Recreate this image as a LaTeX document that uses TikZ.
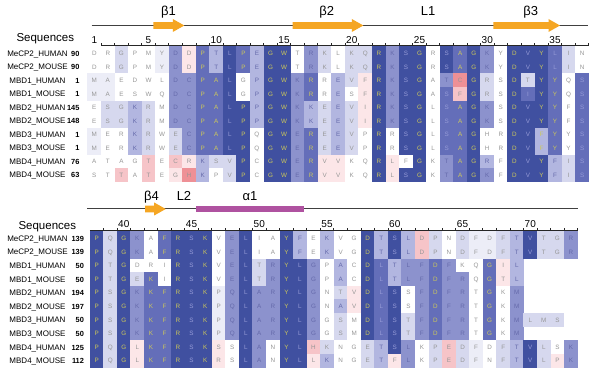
\documentclass[tikz,border=0pt]{standalone}
\usepackage{fontspec}
\setmainfont{Liberation Sans}
\usepackage{xstring}
\definecolor{c5}{RGB}{64,80,160}
\definecolor{c4}{RGB}{100,110,185}
\definecolor{c3}{RGB}{140,146,205}
\definecolor{c2}{RGB}{178,182,224}
\definecolor{cy}{RGB}{178,182,224}
\definecolor{c1}{RGB}{214,216,238}
\definecolor{c0}{RGB}{236,237,247}
\definecolor{cw}{RGB}{255,255,255}
\definecolor{cp}{RGB}{252,230,232}
\definecolor{cq}{RGB}{246,196,200}
\definecolor{cr}{RGB}{238,144,150}
\definecolor{tgray}{RGB}{150,150,150}
\definecolor{tmid}{RGB}{100,105,170}
\definecolor{tlav}{RGB}{150,155,215}
\definecolor{tyel}{RGB}{205,200,90}
\definecolor{orng}{RGB}{245,166,35}
\definecolor{helix}{RGB}{175,82,160}
\tikzset{
 cell/.style={rectangle, inner sep=0pt, minimum width=13.75pt, minimum height=13.75pt,
   text height=4.5pt, text depth=0pt, font=\fontsize{6.3}{7}\selectfont},
 lab/.style={anchor=base, font=\fontsize{8}{9}\selectfont},
 num/.style={anchor=base east, font=\bfseries\fontsize{7.4}{9}\selectfont},
 sslab/.style={anchor=base, font=\fontsize{13}{15}\selectfont},
 rulnum/.style={anchor=base, font=\fontsize{10}{12}\selectfont},
 seqhead/.style={anchor=base west, font=\fontsize{11.5}{13}\selectfont},
 ssline/.style={draw=black!75, line width=1pt},
 ruler/.style={draw=black!85, line width=1.3pt},
 tickmark/.style={draw=black!85, line width=0.8pt},
 barrow/.style={fill=orng},
}
\newcommand\seqrow[5]{%
 \StrLen{#3}[\myrl]%
 \foreach \k in {1,...,\myrl}{%
   \StrChar{#3}{\k}[\lt]\StrChar{#4}{\k}[\lv]%
   \def\tc{tgray}%
   \IfSubStr{45}{\lv}{\IfSubStr{GWRPADYFCHK}{\lt}{\def\tc{tyel}}{\def\tc{tlav}}}{}%
   \IfSubStr{23}{\lv}{\def\tc{tmid}}{}%
   \IfStrEq{\lv}{y}{\def\tc{tyel}}{}%
   \node[cell, fill=c\lv, text=\tc] (#5-\k) at ({#1+(\k-1)*13.55}, #2) {\lt};
 }}
\newcommand\rowlab[5]{%
 \node[lab] (#1l) at (37.5,{#2+3}) {#3};
 \node[num] (#1n) at (#5,{#2+3}) {#4};}
\newcommand\betaarrow[4]{%
 \fill[barrow] (#2,{#4-3.3}) -- ({#3-11.5},{#4-3.3}) -- ({#3-11.5},{#4-6.5}) -- (#3,#4)
   -- ({#3-11.5},{#4+6.5}) -- ({#3-11.5},{#4+3.3}) -- (#2,{#4+3.3}) -- cycle;
 \coordinate (#1) at ({(#2+#3)/2},#4);}
\begin{document}
\begin{tikzpicture}[x=1pt,y=-1pt]
\useasboundingbox (0,0) rectangle (600,371);
\fill[white] (0,0) rectangle (600,371);

% ---------- top secondary structure ----------
\coordinate (ssA) at (91.7,25.5); \coordinate (ssB) at (588,25.5);
\draw[ssline] (ssA) -- (ssB);
\betaarrow{b1}{153.3}{184.3}{25.5}
\betaarrow{b2}{292.5}{363.3}{25.5}
\betaarrow{b3}{493.3}{560}{25.5}
\node[sslab] (lb1) at (168.5,16) {β1};
\node[sslab] (lb2) at (326.7,16) {β2};
\node[sslab] (lL1) at (428,16) {L1};
\node[sslab] (lb3) at (530.8,16) {β3};

% ---------- top ruler ----------
\node[seqhead] (sh1) at (13,41.7) {Sequences};
\coordinate (rA) at (101,45.7); \coordinate (rB) at (589.4,45.7);
\draw[ruler] (rA) -- (rB);
\foreach \k in {1,...,37} \draw[tickmark] ({87.5+\k*13.55},45.7) -- ++(0,-2.8);
\node[rulnum] (rn1) at (94.3,44) {1};
\foreach \n in {5,10,...,35} \node[rulnum] (rn\n) at ({94.3+(\n-1)*13.55},44) {\n};

% ---------- top block ----------
\seqrow{94.3}{53.3}{DRGPMYDDPTLPEGWTRKLKQRKSGRSAGKYDVYLIN}{ww1ww03p4254255w31w115355w5453w55541w}{ta}
\seqrow{94.3}{66.82}{DRGPMYDDPTLPEGWTRKLKQRKSGRSAGKYDVYLIN}{ww1ww03p4254255w31w115355w5453w55541w}{tb}
\seqrow{94.3}{80.34}{MAEDWLDCPALGPGWKRREVFRKSGATCGRSDTYYQS}{00wwww33445w25534w21p5355w3r51w5154w4}{tc}
\seqrow{94.3}{93.86}{MAESWQDCPALGPGWKRRESFRKSGASFGRSDIYYQS}{00wwww33445w25534w2wp5355w4q51w5454w4}{td}
\seqrow{94.3}{107.38}{ESGKRMDCPALPPGWKKEEVIRKSGLSAGKSDVYYFS}{w1121w33445525532121p5355w4453w5554w4}{te}
\seqrow{94.3}{120.9}{ESGKRMDCPALPPGWKKEEVIRKSGLSAGKSDVYYFS}{w1121w33445525532121p5355w4453w5554w4}{tf}
\seqrow{94.3}{134.42}{MERKRWECPALPQGWEREEVPRRSGLSAGHRDVFYYS}{0ww21w134455w5534121w5w55w445ww55y4w4}{tg}
\seqrow{94.3}{147.94}{MERKRWECPALPQGWEREEVPRRSGLSAGHRDVFYYS}{0ww21w134455w5534121w5w55w445ww55y4w4}{th}
\seqrow{94.3}{161.46}{ATAGTECRKSVPCGWERVVKQRLFGKTAGRFDVYFIS}{wwwwqwqp2115w5534ppww5pw5w3452w555214}{ti}
\seqrow{94.3}{174.98}{STTATEGHKPVPCGWERVVKQRLSGKTAGKFDVYFIS}{wwqwqwpr2w15w5534ppww5p55w3453w555214}{tj}

\rowlab{ta}{53.3}{MeCP2\_HUMAN}{90}{83}
\rowlab{tb}{66.82}{MeCP2\_MOUSE}{90}{83}
\rowlab{tc}{80.34}{MBD1\_HUMAN}{1}{83}
\rowlab{td}{93.86}{MBD1\_MOUSE}{1}{83}
\rowlab{te}{107.38}{MBD2\_HUMAN}{145}{83}
\rowlab{tf}{120.9}{MBD2\_MOUSE}{148}{83}
\rowlab{tg}{134.42}{MBD3\_HUMAN}{1}{83}
\rowlab{th}{147.94}{MBD3\_MOUSE}{1}{83}
\rowlab{ti}{161.46}{MBD4\_HUMAN}{76}{83}
\rowlab{tj}{174.98}{MBD4\_MOUSE}{63}{83}

% ---------- bottom secondary structure ----------
\coordinate (ssC) at (87,209); \coordinate (ssD) at (578,209);
\draw[ssline] (ssC) -- (ssD);
\betaarrow{b4}{145}{165.7}{209}
\fill[helix] (195.7,205.7) rectangle (304,212.3);
\coordinate (a1) at (250,209);
\node[sslab] (lb4) at (151.5,201) {β4};
\node[sslab] (lL2) at (184,201) {L2};
\node[sslab] (la1) at (250,201) {α1};

% ---------- bottom ruler ----------
\node[seqhead] (sh2) at (15,229.3) {Sequences};
\coordinate (rC) at (89.9,230.7); \coordinate (rD) at (577.7,230.7);
\draw[ruler] (rC) -- (rD);
\foreach \k in {1,...,36} \draw[tickmark] ({89.9+\k*13.55},230.7) -- ++(0,-2.8);
\foreach \n in {40,45,...,70} \node[rulnum] (rn\n) at ({96.7+(\n-38)*13.55},227.7) {\n};

% ---------- bottom block ----------
\seqrow{96.7}{238.3}{PQGKAFRSKVELIAYFEKVGDTSLDPNDFDFTVTGR}{5153w4555w35ww52w2ww5252q1w100125113}{ba}
\seqrow{96.7}{251.9}{PQGKAFRSKVELIAYFEKVGDTSLDPNDFDFTVTGR}{5153w4555w35ww52w2ww5252q1w100125113}{bb}
\seqrow{96.7}{265.5}{PTGDRIRSKVELTRYLGPACDLTLFDFKQGIL}{515www555w3513553w2w5423343ww4p2}{bc}
\seqrow{96.7}{279.1}{PTGEKIRSKVELTRYLGPACDLTLFDFRQGTL}{51514w555w3513553w2w54233433w4p2}{bd}
\seqrow{96.7}{292.7}{PSGKKFRSKPQLARYLGNTVDLSSFDFRTGKM}{51534455503533553w1p545w3433w4w3}{be}
\seqrow{96.7}{306.3}{PSGKKFRSKPQLARYLGNAVDLSSFDFRTGKM}{51534455503533553w2p545w3433w4w3}{bf}
\seqrow{96.7}{319.9}{PSGKKFRSKPQLARYLGGSMDLSTFDFRTGKMLMS}{51534455503533553w1w54513433w4w3111}{bg}
\seqrow{96.7}{333.5}{PSGKKFRSKPQLARYLGGSMDLSTFDFRTGKM}{51534455503533553w1w54513433w4w3}{bh}
\seqrow{96.7}{347.1}{PQGLKFRSKSSLANYLHKNGETSLKPEDFDFTVLSK}{515p44555pw53w55q1ww1253w1q10w1251w3}{bi}
\seqrow{96.7}{360.7}{PQGLKFRSKRSLANYLLKNGETFLKPEDFNFTVLPK}{515p44555pw53w55p2ww12p3w1q10w1251p3}{bj}

\rowlab{ba}{238.3}{MeCP2\_HUMAN}{139}{87.5}
\rowlab{bb}{251.9}{MeCP2\_MOUSE}{139}{87.5}
\rowlab{bc}{265.5}{MBD1\_HUMAN}{50}{87.5}
\rowlab{bd}{279.1}{MBD1\_MOUSE}{50}{87.5}
\rowlab{be}{292.7}{MBD2\_HUMAN}{194}{87.5}
\rowlab{bf}{306.3}{MBD2\_MOUSE}{197}{87.5}
\rowlab{bg}{319.9}{MBD3\_HUMAN}{50}{87.5}
\rowlab{bh}{333.5}{MBD3\_MOUSE}{50}{87.5}
\rowlab{bi}{347.1}{MBD4\_HUMAN}{125}{87.5}
\rowlab{bj}{360.7}{MBD4\_MOUSE}{112}{87.5}
\end{tikzpicture}
\end{document}
